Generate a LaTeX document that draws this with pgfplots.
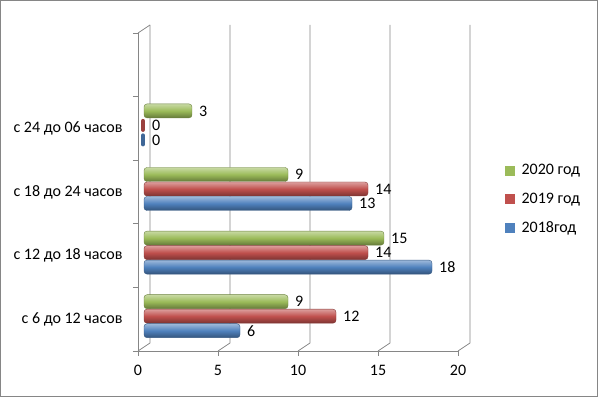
\documentclass[border=0pt]{standalone}
\usepackage{pgfplots}
\pgfplotsset{compat=1.18}
\usepackage{fontspec}
\setmainfont{Carlito}
\definecolor{cblue}{HTML}{4F81BD}
\definecolor{cred}{HTML}{C0504D}
\definecolor{cgreen}{HTML}{9BBB59}
\definecolor{cgrid}{HTML}{868686}
\newcommand{\chartfont}{\fontsize{16bp}{19bp}\selectfont}
\pgfplotsset{
  ser/.style={draw=#1!70!black, line width=0.4bp, top color=#1!55!white, bottom color=#1!65!black,
    middle color=#1, rounded corners=3bp, xshift=6bp, forget plot},
  zer/.style={fill=#1!80!black, draw=#1!80!black, line width=4bp, line join=round, bar width=9bp, xshift=5bp, forget plot},
}
\begin{document}
\begin{tikzpicture}[font=\chartfont]
\useasboundingbox (0,0) rectangle (598bp,397bp);
\draw[cgrid, line width=1.2bp] (0.6bp,0.6bp) rectangle (597.4bp,396.4bp);
\begin{axis}[
  at={(138bp,46bp)}, anchor=south west,
  scale only axis, width=320bp, height=318bp,
  xmin=0, xmax=20, ymin=0, ymax=5,
  clip=false,
  axis lines=left,
  axis line style={draw=cgrid, line width=0.8bp, -},
  every outer x axis line/.append style={-},
  every outer y axis line/.append style={-},
  xtick={0,5,...,20},
  ytick={0,...,5}, yticklabels={},
  extra y ticks={0.5,1.5,2.5,3.5},
  extra y tick labels={с 6 до 12 часов, с 12 до 18 часов, с 18 до 24 часов, с 24 до 06 часов},
  extra y tick style={major tick length=0pt, yticklabel style={xshift=-12bp}},
  tick align=outside, major tick length=5bp,
  tick style={draw=cgrid, line width=0.8bp},
  tick label style={font=\chartfont, text=black},
  xticklabel style={yshift=-6bp},
  /pgf/number format/assume math mode=true,
  xbar, bar width=14bp,
  nodes near coords,
  every node near coord/.append style={anchor=west, xshift=6bp, inner sep=1bp, text=black, font=\chartfont},
  legend style={at={(rel axis cs:1,0.478)}, anchor=west, xshift=47bp, draw=none, fill=none,
    font=\chartfont, row sep=12.5bp, inner sep=0pt},
  legend cell align=left,
]
\pgfplotsinvokeforeach{0,5,10,15,20}{
  \draw[cgrid, line width=0.8bp] (axis cs:#1,0) -- ++(12bp,8bp) -- ([shift={(12bp,8bp)}]axis cs:#1,5);
}
\draw[cgrid, line width=0.8bp] (axis cs:0,5) -- ++(12bp,8bp);

% 2020 год (green)
\addplot[ser=cgreen, bar shift=17.5bp] coordinates {(9,0.5)};
\addplot[ser=cgreen, bar shift=17.5bp] coordinates {(15,1.5)};
\addplot[ser=cgreen, bar shift=17.5bp] coordinates {(9,2.5)};
\addplot[ser=cgreen, bar shift=17.5bp] coordinates {(3,3.5)};
% 2019 год (red)
\addplot[ser=cred, bar shift=3bp] coordinates {(12,0.5)};
\addplot[ser=cred, bar shift=3bp] coordinates {(14,1.5)};
\addplot[ser=cred, bar shift=3bp] coordinates {(14,2.5)};
\addplot[zer=cred, bar shift=3bp] coordinates {(0,3.5)};
% 2018год (blue)
\addplot[ser=cblue, bar shift=-11.5bp] coordinates {(6,0.5)};
\addplot[ser=cblue, bar shift=-11.5bp] coordinates {(18,1.5)};
\addplot[ser=cblue, bar shift=-11.5bp] coordinates {(13,2.5)};
\addplot[zer=cblue, bar shift=-11.5bp] coordinates {(0,3.5)};

\addlegendimage{legend image code/.code={\fill[cgreen] (0bp,-4.5bp) rectangle (9bp,4.5bp); \path (14bp,0bp);}}
\addlegendentry{2020 год}
\addlegendimage{legend image code/.code={\fill[cred] (0bp,-4.5bp) rectangle (9bp,4.5bp); \path (14bp,0bp);}}
\addlegendentry{2019 год}
\addlegendimage{legend image code/.code={\fill[cblue] (0bp,-4.5bp) rectangle (9bp,4.5bp); \path (14bp,0bp);}}
\addlegendentry{2018год}
\end{axis}
\end{tikzpicture}
\end{document}
